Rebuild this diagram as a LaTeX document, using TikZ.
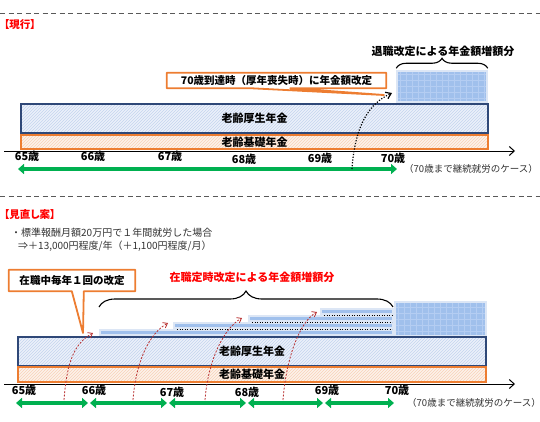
\documentclass[tikz,border=0pt]{standalone}
\usepackage{fontspec}
\setmainfont{Noto Sans CJK JP}
\newfontfamily\jpprop[RawFeature=+palt]{Noto Sans CJK JP}
\usetikzlibrary{calc,decorations.pathreplacing,patterns,arrows.meta}
\definecolor{kbord}{RGB}{47,72,120}
\definecolor{kfill}{RGB}{236,241,250}
\definecolor{khatch}{RGB}{196,212,238}
\definecolor{orng}{RGB}{237,125,49}
\definecolor{ofill}{RGB}{253,242,234}
\definecolor{ohatch}{RGB}{248,210,185}
\definecolor{gridbg}{RGB}{160,192,236}
\definecolor{gridln}{RGB}{180,205,242}
\definecolor{gridrim}{RGB}{220,230,245}
\definecolor{grn}{RGB}{0,176,80}
\definecolor{redtxt}{RGB}{255,0,0}
\definecolor{redarr}{RGB}{185,50,50}
\definecolor{notegray}{RGB}{50,50,50}

\begin{document}
\begin{tikzpicture}[x=1pt,y=-1pt,
	every node/.style={inner sep=0pt},
	big/.style={font=\bfseries\fontsize{11}{13}\selectfont},
	mid/.style={font=\bfseries\fontsize{10.5}{12}\selectfont},
	note/.style={font=\fontsize{10}{12}\selectfont,text=notegray,anchor=west},
	casenote/.style={font=\fontsize{9.5}{11}\selectfont,text=notegray,anchor=west},
	heading/.style={font=\jpprop\bfseries\fontsize{10.5}{12}\selectfont,text=redtxt,anchor=west},
	kosei/.style={big,draw=kbord,line width=1.5pt,preaction={fill=kfill},
		pattern=north east lines,pattern color=khatch,minimum height=29pt},
	kiso/.style={big,draw=orng,line width=1.5pt,preaction={fill=ofill},
		pattern=north east lines,pattern color=ohatch,minimum height=14pt},
	zoubun/.style={draw=gridrim,line width=1.5pt,fill=gridbg,
		path picture={\draw[gridln,line width=.5pt]
			(path picture bounding box.south west) grid[step=6pt]
			(path picture bounding box.north east);}},
	callout/.style={draw=orng,line width=1.8pt,line join=round},
	axisline/.style={line width=1pt,-{Straight Barb[length=5pt,width=9pt]}},
	nenkan/.style={grn,line width=3.5pt,
		{Triangle[length=6pt,width=10pt]}-{Triangle[length=6pt,width=10pt]}},
	kaiteiarr/.style={redarr,line width=.8pt,dash pattern=on 2pt off 1.5pt,
		-{Straight Barb[length=4pt,width=6pt]}},
	taishokuarr/.style={line width=1.2pt,dash pattern=on 1.2pt off 1.6pt,
		-{Straight Barb[length=5pt,width=7pt]}},
	sep/.style={gray!70!black,line width=.9pt,dash pattern=on 5pt off 3.5pt},
	agelbl/.style={big}
	]
	\useasboundingbox (0,0) rectangle (540,421);
	
	% upper panel
	\draw[sep] (0,13) -- (540,13);
	\node[heading] (genkou) at (4,25) {【現行】};
	
	\node[kosei,minimum width=467pt] (kosei1) at (254.5,118.5) {老齢厚生年金};
	\node[kiso,minimum width=467pt] (kiso1) at (254.5,142) {老齢基礎年金};
	\node[zoubun,minimum width=90pt,minimum height=31pt] (zoubun1) at (442,86.5) {};
	
	\draw[decorate,decoration={brace,amplitude=10pt},line width=1.1pt]
	([yshift=2pt]zoubun1.north west) -- ([yshift=2pt]zoubun1.north east);
	\node[big] (zoubunlbl1) at (443,51) {退職改定による年金額増額分};
	
	\node[mid,minimum width=219pt,minimum height=15pt] (kaitei1) at (276.5,80.5)
	{70歳到達時（厚年喪失時）に年金額改定};
	\coordinate (tip1) at (384,95);
	\draw[callout] (kaitei1.north west) -- (kaitei1.north east) -- (kaitei1.south east)
	-- ([xshift=-96pt]kaitei1.south east) -- (tip1)
	-- ([xshift=-136pt]kaitei1.south east) -- (kaitei1.south west) -- cycle;
	
	\coordinate (ax1s) at (4,151);
	\coordinate (ax1e) at (515,151);
	\draw[axisline] (ax1s) -- (ax1e);
	\foreach \a/\x/\y in {65/27/156,66/93/156,67/170/156,68/244/159,69/320/158,70/393/158}
	\node[agelbl] (age1-\a) at (\x,\y) {{\a}歳};
	\node[casenote] (case1) at (404,169) {（70歳まで継続就労のケース）};
	
	\coordinate (work1s) at (18,169);
	\coordinate (work1e) at (397,169);
	\draw[nenkan] (work1s) -- (work1e);
	
	\coordinate (tai1s) at (352,169);
	\coordinate (tai1e) at (392,93);
	\draw[taishokuarr] (tai1s) .. controls +(3,-45) and +(-22,10) .. (tai1e);
	
	% lower panel
	\draw[sep] (0,196) -- (540,196);
	\node[heading] (minaoshi) at (4,215) {【見直し案】};
	\node[note] (rei1) at (11,233) {・標準報酬月額20万円で１年間就労した場合};
	\node[note] (rei2) at (18,246) {⇒＋13,000円程度/年（＋1,100円程度/月）};
	
	\node[mid,minimum width=126pt,minimum height=21pt] (kaitei2) at (72,280.5)
	{在職中毎年１回の改定};
	\coordinate (tip2) at (83,333);
	\draw[callout] (kaitei2.north west) -- (kaitei2.north east) -- (kaitei2.south east)
	-- ([xshift=75pt]kaitei2.south west) -- (tip2)
	-- ([xshift=63pt]kaitei2.south west) -- (kaitei2.south west) -- cycle;
	
	\node[big,text=redtxt] (zoubunlbl2) at (252,277) {在職定時改定による年金額増額分};
	\coordinate (br2l) at (99,307);
	\coordinate (br2r) at (393,307);
	\draw[decorate,decoration={brace,amplitude=16pt},line width=1.1pt] (br2l) -- (br2r);
	
	\foreach \x/\c [count=\k] in {99/332,173/325,248/318,320/311}{
		\fill[gridrim] (\x,\c-3.5) rectangle (394,\c+3.5);
		\fill[gridbg] (\x+2,\c-1.5) rectangle (392,\c+1.5);
	}
	\foreach \x/\c in {173/325,248/318,320/311}
	\draw[line width=1.3pt,dash pattern=on 1.3pt off 1.2pt] (\x+4,\c+4.5) -- (392,\c+4.5);
	\node[zoubun,minimum width=91pt,minimum height=34pt] (zoubun2) at (440.5,319) {};
	
	\node[kosei,minimum width=468pt] (kosei2) at (252,351.5) {老齢厚生年金};
	\node[kiso,minimum width=468pt,minimum height=15pt] (kiso2) at (252,374.5) {老齢基礎年金};
	
	\coordinate (ax2s) at (4,384);
	\coordinate (ax2e) at (515,384);
	\draw[axisline] (ax2s) -- (ax2e);
	\foreach \a/\x/\y in {65/24/390,66/94/390,67/172/392,68/247/392,69/327/390,70/397/390}
	\node[agelbl] (age2-\a) at (\x,\y) {{\a}歳};
	\node[casenote] (case2) at (407,403) {（70歳まで継続就労のケース）};
	
	\foreach \s/\e [count=\k] in {16/88,90/167,169/246,248/323,325/394}{
		\coordinate (work2s-\k) at (\s,403);
		\coordinate (work2e-\k) at (\e,403);
		\draw[nenkan] (work2s-\k) -- (work2e-\k);
	}
	
	\foreach \s/\e/\t [count=\k] in {64/93/333,133/168/323,205/242/318,283/317/312}{
		\coordinate (kai2s-\k) at (\s,400);
		\coordinate (kai2e-\k) at (\e,\t);
		\draw[kaiteiarr] (kai2s-\k) .. controls +(3,-40) and +(-18,10) .. (kai2e-\k);
	}
\end{tikzpicture}
\end{document}
